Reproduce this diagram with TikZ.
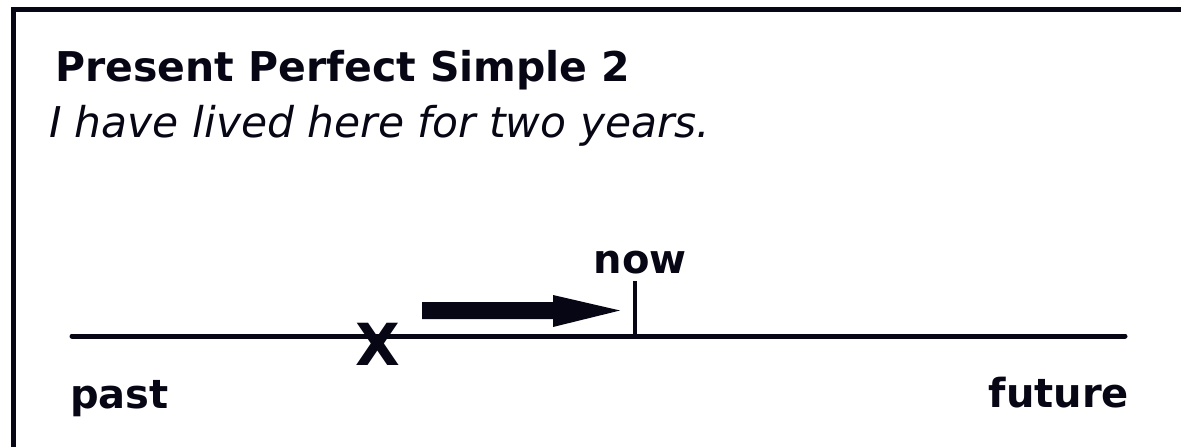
\documentclass[tikz,border=0pt]{standalone}
\usepackage{fontspec}
\setmainfont{DejaVu Sans}
\definecolor{ink}{RGB}{6,6,20}
\begin{document}
\begin{tikzpicture}[x=1pt,y=-1pt,
  lbl/.style={inner sep=0pt,outer sep=0pt,text=ink,font=\fontsize{40}{48}\selectfont\bfseries},
  rule/.style={draw=ink,line width=5pt,line cap=round}]
\useasboundingbox (0,0) rectangle (1181,447);
% frame (top and left edges)
\draw[draw=ink,line width=5.5pt] (13.5,447) -- (13.5,9.5) -- (1181,9.5);
% title and sentence
\node[lbl,anchor=base west,font=\fontsize{41}{48}\selectfont\bfseries] (title) at (55,81) {Present Perfect Simple 2};
\node[lbl,anchor=base west,font=\fontsize{42.4}{48}\selectfont\itshape] (sent) at (49,137) {I have lived here for two years.};
% timeline
\coordinate (tl) at (72,336);
\coordinate (tr) at (1125,336);
\draw[rule] (tl) -- (tr);
\node[lbl,anchor=base west] (past) at (70,408) {past};
\node[lbl,anchor=base east] (future) at (1129,407) {future};
% now marker
\coordinate (nowbot) at (635,336);
\coordinate (nowtop) at (635,281);
\draw[draw=ink,line width=4pt] (nowbot) -- (nowtop);
\node[lbl,anchor=base] (now) at (640,273) {now};
% X
\node[lbl,font=\fontsize{58}{60}\selectfont\bfseries] (x) at (378,344) {X};
% arrow
\coordinate (arrS) at (422,310.5);
\coordinate (arrE) at (620,310.5);
\fill[ink] (422,302) -- (553,302) -- (553,295) -- (arrE) -- (553,327) -- (553,319) -- (422,319) -- cycle;
\end{tikzpicture}
\end{document}
